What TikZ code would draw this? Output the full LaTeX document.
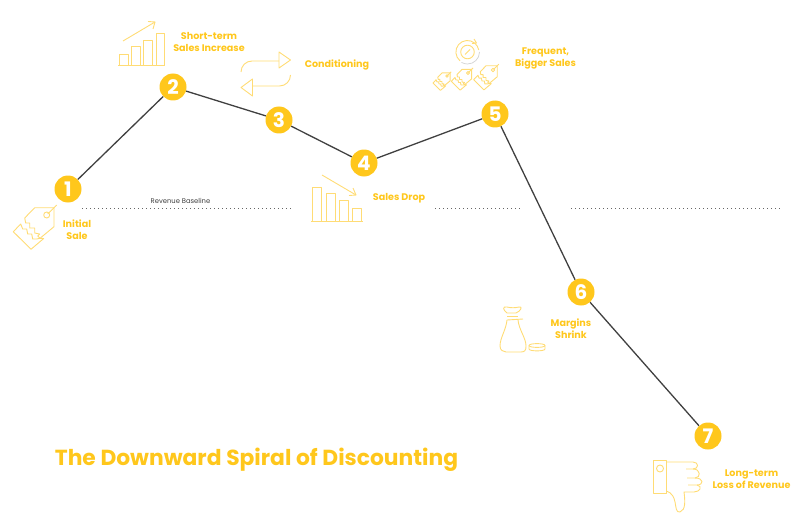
\documentclass[tikz,border=0pt]{standalone}
\usepackage{fontspec}
\setmainfont{Poppins}
\usepackage{tikz}
\definecolor{spiralyellow}{HTML}{FFC71C}
\definecolor{iconyellow}{HTML}{FFDC75}
\definecolor{spiralline}{HTML}{404040}
\tikzset{
    stepdot/.style={circle,fill=spiralyellow,minimum size=27pt,inner sep=0pt,text=white,font=\fontsize{20}{20}\selectfont\bfseries},
    steplabel/.style={align=center,text=spiralyellow,inner sep=0pt,font=\fontsize{9.6}{12}\selectfont\bfseries},
    spiral/.style={spiralline,line width=1.3pt},
    baseline/.style={spiralline!80,line width=1pt,dash pattern=on 1pt off 3pt},
    icon/.style={iconyellow,line width=.9pt,line join=round},
    pics/pricetag/.style={code={
        \draw[icon] (-12,-7.3) -- (7.3,-7.3) -- (7.3,11.7) -- (-6.7,23.3) -- (-9,21) -- (-7,19) -- (-12,18) -- (-12,13) -- (-17,13) -- (-17,8) -- (-21,8) -- (-22,3) -- cycle;
        \draw[icon] (-33.4,16.7) -- (-26,9) -- (-24,14) -- (-20,14) -- (-19,19) -- (-15,19) -- (-14,24) -- (-10,24) -- (-6.7,23.3) -- (-3,23.5) -- (-15.7,34.3) -- cycle;
        \draw[icon] (0,0) circle (3);
        \draw[icon] (1,-1) -- (10,-10);
    }}
}
\begin{document}
\begin{tikzpicture}[x=1pt,y=-1pt]
    \useasboundingbox (0,0) rectangle (800,532);

    \node[stepdot] (n1) at (68,189) {1};
    \node[stepdot] (n2) at (173,87) {2};
    \node[stepdot] (n3) at (279,120) {3};
    \node[stepdot] (n4) at (364,163) {4};
    \node[stepdot] (n5) at (495,114) {5};
    \node[stepdot] (n6) at (581,292) {6};
    \node[stepdot] (n7) at (708,436) {7};
    \draw[spiral] (n1) -- (n2);
    \draw[spiral] (n2) -- (n3);
    \draw[spiral] (n3) -- (n4);
    \draw[spiral] (n4) -- (n5);
    \draw[spiral] (n5) -- (n6);
    \draw[spiral] (n6) -- (n7);

    \coordinate (b1) at (82,208);
    \coordinate (b2) at (292,208);
    \coordinate (b3) at (435,208);
    \coordinate (b4) at (521,208);
    \coordinate (b5) at (571,208);
    \coordinate (b6) at (782,208);
    \draw[baseline] (b1) -- (b2);
    \draw[baseline] (b3) -- (b4);
    \draw[baseline] (b5) -- (b6);
    \node[text=spiralline,inner sep=0pt,font=\fontsize{6.8}{7}\selectfont] (baselabel) at (180.5,201) {Revenue Baseline};

    \node[steplabel] (l1) at (77,229.5) {Initial\\Sale};
    \node[steplabel] (l2) at (209,42) {Short-term\\Sales Increase};
    \node[steplabel] (l3) at (337,64.5) {Conditioning};
    \node[steplabel] (l4) at (399,198) {Sales Drop};
    \node[steplabel] (l5) at (545.5,58) {Frequent,\\Bigger Sales};
    \node[steplabel] (l6) at (571,329) {Margins\\Shrink};
    \node[steplabel] (l7) at (751.5,479) {Long-term\\Loss of Revenue};
    \node[text=spiralyellow,inner sep=0pt,font=\fontsize{21.8}{22}\selectfont\bfseries] (title) at (256.5,460) {The Downward Spiral of Discounting};

    \pic at (46.7,215) {pricetag};

    \draw[icon] (118,65) -- (165,65);
    \draw[icon] (119,65) rectangle (128,54);
    \draw[icon] (131,65) rectangle (140,46);
    \draw[icon] (143.5,65) rectangle (152,40);
    \draw[icon] (156,65) rectangle (164.5,33);
    \draw[icon] (123,41) -- (155,22);
    \draw[icon] (148,21.5) -- (155,22) -- (153,29);

    \draw[icon] (241,72) arc (180:270:11) -- (279,61);
    \draw[icon] (279,52) -- (290.5,60) -- (279,68) -- cycle;
    \draw[icon] (290.5,75) arc (0:90:11) -- (252.5,86);
    \draw[icon] (252.5,79) -- (241,87.5) -- (252.5,96) -- cycle;

    \draw[icon] (312,187) rectangle (321.5,221.5);
    \draw[icon] (326,193.5) rectangle (335,221.5);
    \draw[icon] (339.5,200.5) rectangle (348.5,221.5);
    \draw[icon] (352,208.5) rectangle (361.5,221.5);
    \draw[icon] (311,221.5) -- (363,221.5);
    \draw[icon] (322,175) -- (356,195);
    \draw[icon] (349,195.5) -- (356,195) -- (353,188);

    \draw[icon] (460,60.8) arc (130:350:11.5);
    \draw[icon] (467.5,52) circle (6.8);
    \draw[icon] (465,54.5) -- (470,49.5);
    \draw[gray!35,line width=.7pt] (479.5,52) arc (0:120:12);
    \draw[icon] (474,39) -- (476.5,43) -- (472,43.5);
    \pic[scale=.42] at (447,76) {pricetag};
    \pic[scale=.5] at (468,73) {pricetag};
    \pic[scale=.58] at (493,70) {pricetag};

    \draw[icon] (507,313) .. controls (503,310) and (502,306) .. (507,307) .. controls (511,308) and (515,308) .. (519,307) .. controls (523,306) and (521,311) .. (516,313) -- cycle;
    \draw[icon] (507,316.5) -- (518,316.5);
    \draw[icon] (507,320) -- (523,319);
    \draw[icon] (507,320) .. controls (506,330) and (500,338) .. (500,346) .. controls (500,350) and (503,352) .. (506,352) -- (521,352) .. controls (525,352) and (526,350) .. (526,346) .. controls (526,338) and (519,330) .. (518,320);
    \draw[icon] (529,345.5) .. controls (529,343) and (545,343) .. (545,345.5) -- (545,349) .. controls (545,351.5) and (529,351.5) .. (529,349) -- cycle;
    \draw[icon] (529,345.5) .. controls (529,348) and (545,348) .. (545,345.5);

    \draw[icon] (653.5,460) rectangle (666.5,493);
    \draw[icon] (660,468.5) circle (3.5);
    \draw[icon] (666.5,462) -- (693,462) .. controls (699,462) and (699,469) .. (693,469) -- (686,469);
    \draw[icon] (693,469) .. controls (701,469) and (701,478) .. (695,478) -- (687,478);
    \draw[icon] (695,478) .. controls (704,478) and (704,485) .. (697,485) -- (688,485);
    \draw[icon] (697,485) .. controls (703,486) and (700,492) .. (694,492) -- (684,492) .. controls (685,500) and (686,510) .. (680,512) .. controls (676,513) and (676,507) .. (675,502) .. controls (674,497) and (672,493) .. (666.5,491);
\end{tikzpicture}
\end{document}
